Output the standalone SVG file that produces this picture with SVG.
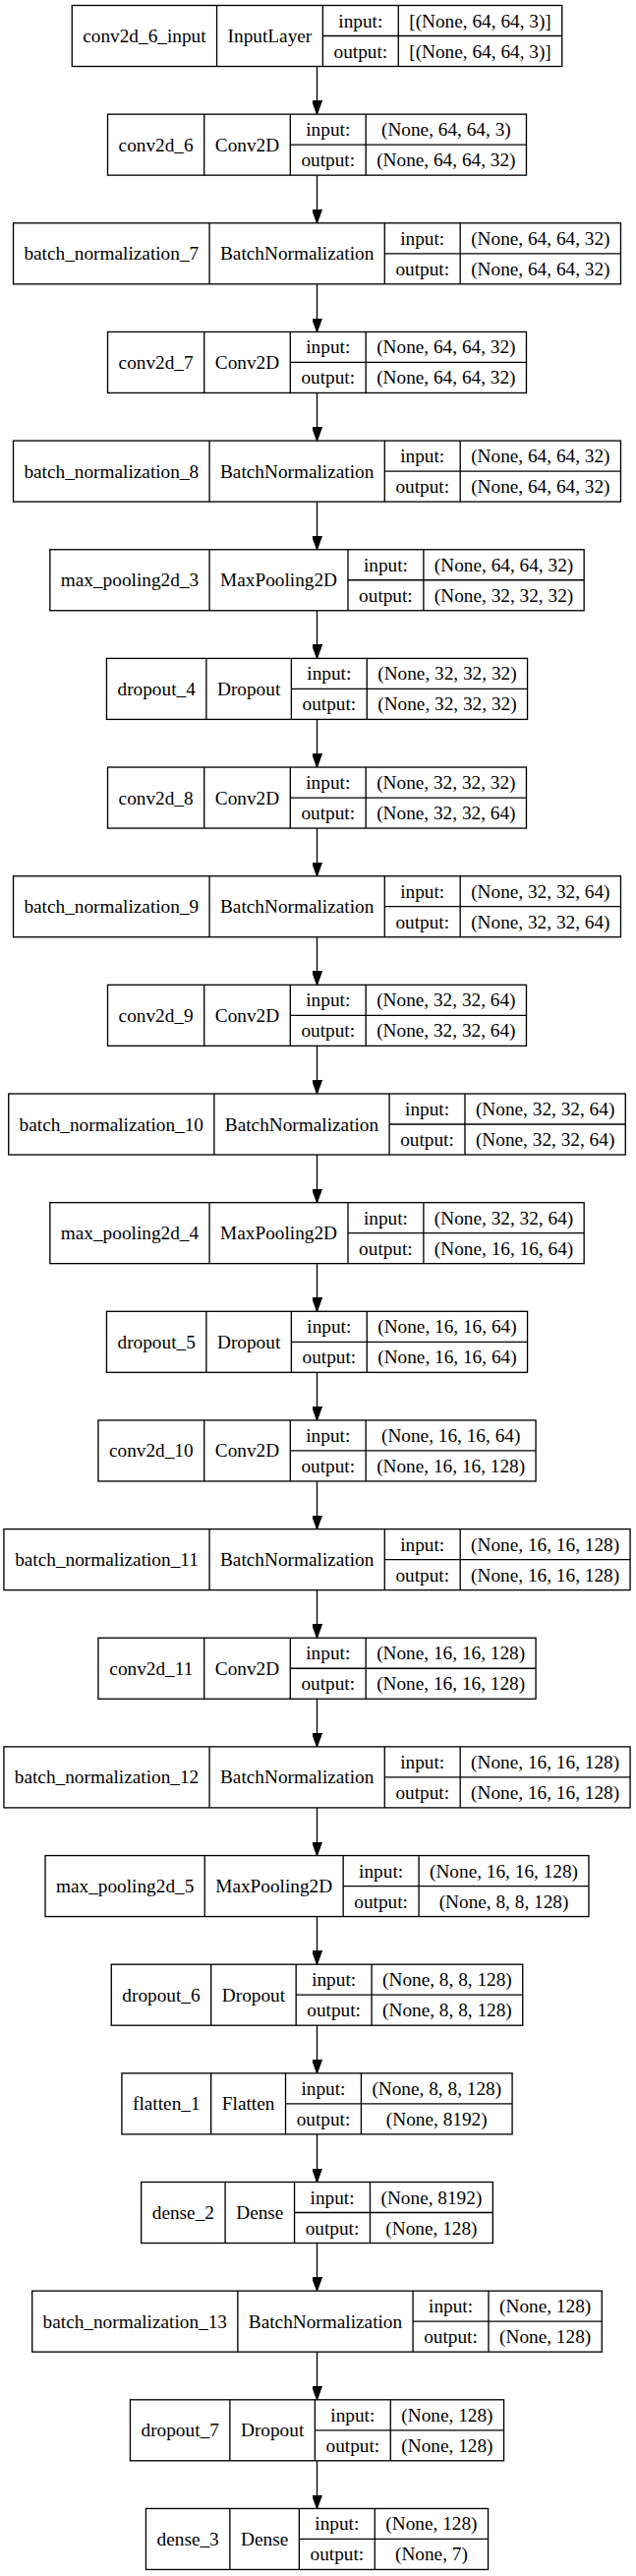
<svg xmlns="http://www.w3.org/2000/svg" width="647" height="2619" viewBox="0 0 647 2619">
<defs>
<style>
.b{fill:#fff;stroke:#000;stroke-width:1.33}
.d{fill:none;stroke:#000;stroke-width:1.33}
text{font-family:"Liberation Serif","Times New Roman",serif;font-size:19.3px;fill:#000;text-anchor:middle}
.e{fill:none;stroke:#000;stroke-width:1.33}
</style>
<marker id="ah" markerUnits="userSpaceOnUse" markerWidth="14" markerHeight="10" viewBox="0 0 13.3 9.6" refX="13.3" refY="4.8" orient="auto"><path d="M0,0 L13.3,4.8 L0,9.6 z" fill="#000" stroke="#000" stroke-width="1"/></marker>
</defs>
<rect x="0" y="0" width="647" height="2619" fill="#fff"/>
<g id="edges">
<path class="e" marker-end="url(#ah)" d="M322.5 67.5 V116.15"/>
<path class="e" marker-end="url(#ah)" d="M322.5 178.15 V226.8"/>
<path class="e" marker-end="url(#ah)" d="M322.5 288.8 V337.45"/>
<path class="e" marker-end="url(#ah)" d="M322.5 399.45 V448.1"/>
<path class="e" marker-end="url(#ah)" d="M322.5 510.1 V558.75"/>
<path class="e" marker-end="url(#ah)" d="M322.5 620.75 V669.4"/>
<path class="e" marker-end="url(#ah)" d="M322.5 731.4 V780.05"/>
<path class="e" marker-end="url(#ah)" d="M322.5 842.05 V890.7"/>
<path class="e" marker-end="url(#ah)" d="M322.5 952.7 V1001.35"/>
<path class="e" marker-end="url(#ah)" d="M322.5 1063.35 V1112"/>
<path class="e" marker-end="url(#ah)" d="M322.5 1174 V1222.65"/>
<path class="e" marker-end="url(#ah)" d="M322.5 1284.65 V1333.3"/>
<path class="e" marker-end="url(#ah)" d="M322.5 1395.3 V1443.95"/>
<path class="e" marker-end="url(#ah)" d="M322.5 1505.95 V1554.6"/>
<path class="e" marker-end="url(#ah)" d="M322.5 1616.6 V1665.25"/>
<path class="e" marker-end="url(#ah)" d="M322.5 1727.25 V1775.9"/>
<path class="e" marker-end="url(#ah)" d="M322.5 1837.9 V1886.55"/>
<path class="e" marker-end="url(#ah)" d="M322.5 1948.55 V1997.2"/>
<path class="e" marker-end="url(#ah)" d="M322.5 2059.2 V2107.85"/>
<path class="e" marker-end="url(#ah)" d="M322.5 2169.85 V2218.5"/>
<path class="e" marker-end="url(#ah)" d="M322.5 2280.5 V2329.15"/>
<path class="e" marker-end="url(#ah)" d="M322.5 2391.15 V2439.8"/>
<path class="e" marker-end="url(#ah)" d="M322.5 2501.8 V2550.45"/>
</g>

<g id="n0" transform="translate(73.26 5.5)">
<rect class="b" width="498.48" height="62"/>
<path class="d" d="M147.3 0V62M255.11 0V62M332.02 0V62M255.11 31H498.48"/>
<text x="73.65" y="37.5">conv2d_6_input</text><text x="201.2" y="37.5">InputLayer</text>
<text x="293.57" y="22">input:</text><text x="293.57" y="53">output:</text>
<text x="415.25" y="22">[(None, 64, 64, 3)]</text><text x="415.25" y="53">[(None, 64, 64, 3)]</text>
</g>

<g id="n1" transform="translate(109.51 116.15)">
<rect class="b" width="425.97" height="62"/>
<path class="d" d="M98.22 0V62M185.79 0V62M262.7 0V62M185.79 31H425.97"/>
<text x="49.11" y="37.5">conv2d_6</text><text x="142" y="37.5">Conv2D</text>
<text x="224.25" y="22">input:</text><text x="224.25" y="53">output:</text>
<text x="344.34" y="22">(None, 64, 64, 3)</text><text x="344.34" y="53">(None, 64, 64, 32)</text>
</g>

<g id="n2" transform="translate(13.53 226.8)">
<rect class="b" width="617.93" height="62"/>
<path class="d" d="M199.54 0V62M377.75 0V62M454.66 0V62M377.75 31H617.93"/>
<text x="99.77" y="37.5">batch_normalization_7</text><text x="288.65" y="37.5">BatchNormalization</text>
<text x="416.2" y="22">input:</text><text x="416.2" y="53">output:</text>
<text x="536.3" y="22">(None, 64, 64, 32)</text><text x="536.3" y="53">(None, 64, 64, 32)</text>
</g>

<g id="n3" transform="translate(109.51 337.45)">
<rect class="b" width="425.97" height="62"/>
<path class="d" d="M98.22 0V62M185.79 0V62M262.7 0V62M185.79 31H425.97"/>
<text x="49.11" y="37.5">conv2d_7</text><text x="142" y="37.5">Conv2D</text>
<text x="224.25" y="22">input:</text><text x="224.25" y="53">output:</text>
<text x="344.34" y="22">(None, 64, 64, 32)</text><text x="344.34" y="53">(None, 64, 64, 32)</text>
</g>

<g id="n4" transform="translate(13.53 448.1)">
<rect class="b" width="617.93" height="62"/>
<path class="d" d="M199.54 0V62M377.75 0V62M454.66 0V62M377.75 31H617.93"/>
<text x="99.77" y="37.5">batch_normalization_8</text><text x="288.65" y="37.5">BatchNormalization</text>
<text x="416.2" y="22">input:</text><text x="416.2" y="53">output:</text>
<text x="536.3" y="22">(None, 64, 64, 32)</text><text x="536.3" y="53">(None, 64, 64, 32)</text>
</g>

<g id="n5" transform="translate(50.83 558.75)">
<rect class="b" width="543.33" height="62"/>
<path class="d" d="M162.24 0V62M303.15 0V62M380.06 0V62M303.15 31H543.33"/>
<text x="81.12" y="37.5">max_pooling2d_3</text><text x="232.7" y="37.5">MaxPooling2D</text>
<text x="341.6" y="22">input:</text><text x="341.6" y="53">output:</text>
<text x="461.7" y="22">(None, 64, 64, 32)</text><text x="461.7" y="53">(None, 32, 32, 32)</text>
</g>

<g id="n6" transform="translate(108.45 669.4)">
<rect class="b" width="428.1" height="62"/>
<path class="d" d="M101.43 0V62M187.92 0V62M264.83 0V62M187.92 31H428.1"/>
<text x="50.72" y="37.5">dropout_4</text><text x="144.68" y="37.5">Dropout</text>
<text x="226.38" y="22">input:</text><text x="226.38" y="53">output:</text>
<text x="346.47" y="22">(None, 32, 32, 32)</text><text x="346.47" y="53">(None, 32, 32, 32)</text>
</g>

<g id="n7" transform="translate(109.51 780.05)">
<rect class="b" width="425.97" height="62"/>
<path class="d" d="M98.22 0V62M185.79 0V62M262.7 0V62M185.79 31H425.97"/>
<text x="49.11" y="37.5">conv2d_8</text><text x="142" y="37.5">Conv2D</text>
<text x="224.25" y="22">input:</text><text x="224.25" y="53">output:</text>
<text x="344.34" y="22">(None, 32, 32, 32)</text><text x="344.34" y="53">(None, 32, 32, 64)</text>
</g>

<g id="n8" transform="translate(13.53 890.7)">
<rect class="b" width="617.93" height="62"/>
<path class="d" d="M199.54 0V62M377.75 0V62M454.66 0V62M377.75 31H617.93"/>
<text x="99.77" y="37.5">batch_normalization_9</text><text x="288.65" y="37.5">BatchNormalization</text>
<text x="416.2" y="22">input:</text><text x="416.2" y="53">output:</text>
<text x="536.3" y="22">(None, 32, 32, 64)</text><text x="536.3" y="53">(None, 32, 32, 64)</text>
</g>

<g id="n9" transform="translate(109.51 1001.35)">
<rect class="b" width="425.97" height="62"/>
<path class="d" d="M98.22 0V62M185.79 0V62M262.7 0V62M185.79 31H425.97"/>
<text x="49.11" y="37.5">conv2d_9</text><text x="142" y="37.5">Conv2D</text>
<text x="224.25" y="22">input:</text><text x="224.25" y="53">output:</text>
<text x="344.34" y="22">(None, 32, 32, 64)</text><text x="344.34" y="53">(None, 32, 32, 64)</text>
</g>

<g id="n10" transform="translate(8.73 1112)">
<rect class="b" width="627.53" height="62"/>
<path class="d" d="M209.14 0V62M387.35 0V62M464.26 0V62M387.35 31H627.53"/>
<text x="104.57" y="37.5">batch_normalization_10</text><text x="298.25" y="37.5">BatchNormalization</text>
<text x="425.8" y="22">input:</text><text x="425.8" y="53">output:</text>
<text x="545.9" y="22">(None, 32, 32, 64)</text><text x="545.9" y="53">(None, 32, 32, 64)</text>
</g>

<g id="n11" transform="translate(50.83 1222.65)">
<rect class="b" width="543.33" height="62"/>
<path class="d" d="M162.24 0V62M303.15 0V62M380.06 0V62M303.15 31H543.33"/>
<text x="81.12" y="37.5">max_pooling2d_4</text><text x="232.7" y="37.5">MaxPooling2D</text>
<text x="341.6" y="22">input:</text><text x="341.6" y="53">output:</text>
<text x="461.7" y="22">(None, 32, 32, 64)</text><text x="461.7" y="53">(None, 16, 16, 64)</text>
</g>

<g id="n12" transform="translate(108.45 1333.3)">
<rect class="b" width="428.1" height="62"/>
<path class="d" d="M101.43 0V62M187.92 0V62M264.83 0V62M187.92 31H428.1"/>
<text x="50.72" y="37.5">dropout_5</text><text x="144.68" y="37.5">Dropout</text>
<text x="226.38" y="22">input:</text><text x="226.38" y="53">output:</text>
<text x="346.47" y="22">(None, 16, 16, 64)</text><text x="346.47" y="53">(None, 16, 16, 64)</text>
</g>

<g id="n13" transform="translate(99.91 1443.95)">
<rect class="b" width="445.17" height="62"/>
<path class="d" d="M107.82 0V62M195.39 0V62M272.3 0V62M195.39 31H445.17"/>
<text x="53.91" y="37.5">conv2d_10</text><text x="151.6" y="37.5">Conv2D</text>
<text x="233.85" y="22">input:</text><text x="233.85" y="53">output:</text>
<text x="358.74" y="22">(None, 16, 16, 64)</text><text x="358.74" y="53">(None, 16, 16, 128)</text>
</g>

<g id="n14" transform="translate(3.93 1554.6)">
<rect class="b" width="637.13" height="62"/>
<path class="d" d="M209.14 0V62M387.35 0V62M464.26 0V62M387.35 31H637.13"/>
<text x="104.57" y="37.5">batch_normalization_11</text><text x="298.25" y="37.5">BatchNormalization</text>
<text x="425.8" y="22">input:</text><text x="425.8" y="53">output:</text>
<text x="550.7" y="22">(None, 16, 16, 128)</text><text x="550.7" y="53">(None, 16, 16, 128)</text>
</g>

<g id="n15" transform="translate(99.91 1665.25)">
<rect class="b" width="445.17" height="62"/>
<path class="d" d="M107.82 0V62M195.39 0V62M272.3 0V62M195.39 31H445.17"/>
<text x="53.91" y="37.5">conv2d_11</text><text x="151.6" y="37.5">Conv2D</text>
<text x="233.85" y="22">input:</text><text x="233.85" y="53">output:</text>
<text x="358.74" y="22">(None, 16, 16, 128)</text><text x="358.74" y="53">(None, 16, 16, 128)</text>
</g>

<g id="n16" transform="translate(3.93 1775.9)">
<rect class="b" width="637.13" height="62"/>
<path class="d" d="M209.14 0V62M387.35 0V62M464.26 0V62M387.35 31H637.13"/>
<text x="104.57" y="37.5">batch_normalization_12</text><text x="298.25" y="37.5">BatchNormalization</text>
<text x="425.8" y="22">input:</text><text x="425.8" y="53">output:</text>
<text x="550.7" y="22">(None, 16, 16, 128)</text><text x="550.7" y="53">(None, 16, 16, 128)</text>
</g>

<g id="n17" transform="translate(46.03 1886.55)">
<rect class="b" width="552.93" height="62"/>
<path class="d" d="M162.24 0V62M303.15 0V62M380.06 0V62M303.15 31H552.93"/>
<text x="81.12" y="37.5">max_pooling2d_5</text><text x="232.7" y="37.5">MaxPooling2D</text>
<text x="341.6" y="22">input:</text><text x="341.6" y="53">output:</text>
<text x="466.5" y="22">(None, 16, 16, 128)</text><text x="466.5" y="53">(None, 8, 8, 128)</text>
</g>

<g id="n18" transform="translate(113.25 1997.2)">
<rect class="b" width="418.5" height="62"/>
<path class="d" d="M101.43 0V62M187.92 0V62M264.83 0V62M187.92 31H418.5"/>
<text x="50.72" y="37.5">dropout_6</text><text x="144.68" y="37.5">Dropout</text>
<text x="226.38" y="22">input:</text><text x="226.38" y="53">output:</text>
<text x="341.67" y="22">(None, 8, 8, 128)</text><text x="341.67" y="53">(None, 8, 8, 128)</text>
</g>

<g id="n19" transform="translate(123.91 2107.85)">
<rect class="b" width="397.18" height="62"/>
<path class="d" d="M90.76 0V62M166.6 0V62M243.51 0V62M166.6 31H397.18"/>
<text x="45.38" y="37.5">flatten_1</text><text x="128.68" y="37.5">Flatten</text>
<text x="205.06" y="22">input:</text><text x="205.06" y="53">output:</text>
<text x="320.35" y="22">(None, 8, 8, 128)</text><text x="320.35" y="53">(None, 8192)</text>
</g>

<g id="n20" transform="translate(143.66 2218.5)">
<rect class="b" width="357.68" height="62"/>
<path class="d" d="M85.42 0V62M155.9 0V62M232.81 0V62M155.9 31H357.68"/>
<text x="42.71" y="37.5">dense_2</text><text x="120.66" y="37.5">Dense</text>
<text x="194.36" y="22">input:</text><text x="194.36" y="53">output:</text>
<text x="295.25" y="22">(None, 8192)</text><text x="295.25" y="53">(None, 128)</text>
</g>

<g id="n21" transform="translate(32.73 2329.15)">
<rect class="b" width="579.53" height="62"/>
<path class="d" d="M209.14 0V62M387.35 0V62M464.26 0V62M387.35 31H579.53"/>
<text x="104.57" y="37.5">batch_normalization_13</text><text x="298.25" y="37.5">BatchNormalization</text>
<text x="425.8" y="22">input:</text><text x="425.8" y="53">output:</text>
<text x="521.9" y="22">(None, 128)</text><text x="521.9" y="53">(None, 128)</text>
</g>

<g id="n22" transform="translate(132.45 2439.8)">
<rect class="b" width="380.1" height="62"/>
<path class="d" d="M101.43 0V62M187.92 0V62M264.83 0V62M187.92 31H380.1"/>
<text x="50.72" y="37.5">dropout_7</text><text x="144.68" y="37.5">Dropout</text>
<text x="226.38" y="22">input:</text><text x="226.38" y="53">output:</text>
<text x="322.47" y="22">(None, 128)</text><text x="322.47" y="53">(None, 128)</text>
</g>

<g id="n23" transform="translate(148.46 2550.45)">
<rect class="b" width="348.08" height="62"/>
<path class="d" d="M85.42 0V62M155.9 0V62M232.81 0V62M155.9 31H348.08"/>
<text x="42.71" y="37.5">dense_3</text><text x="120.66" y="37.5">Dense</text>
<text x="194.36" y="22">input:</text><text x="194.36" y="53">output:</text>
<text x="290.45" y="22">(None, 128)</text><text x="290.45" y="53">(None, 7)</text>
</g>
</svg>
